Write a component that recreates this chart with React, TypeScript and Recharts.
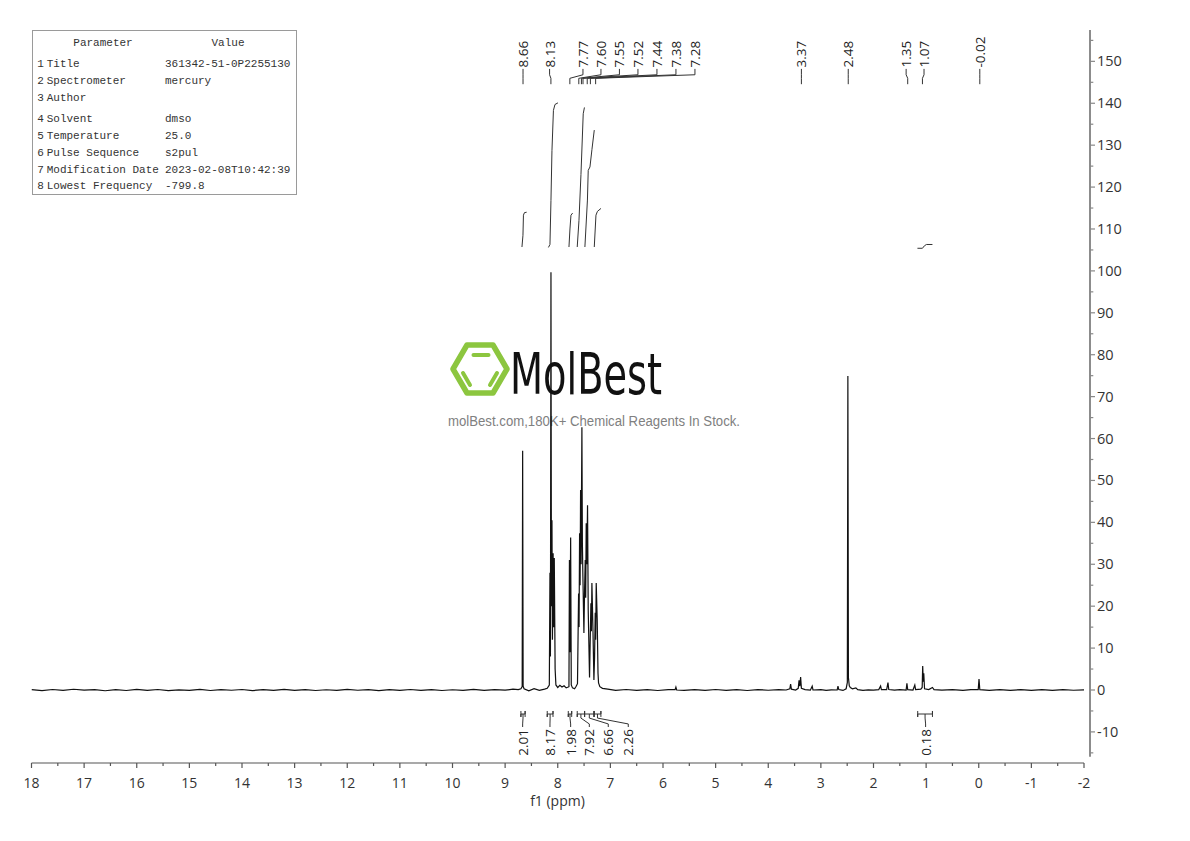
import React from 'react';
import { ComposedChart, Line, XAxis, YAxis, ReferenceLine, ReferenceDot } from 'recharts';

type Pt = [number, number];

// ---------- spectrum (ppm, intensity) ----------
const spectrumDownfield: Pt[] = [
  [18.0, 0.10], [17.8, -0.15], [17.6, 0.12], [17.4, -0.10], [17.2, 0.18], [17.0, -0.05],
  [16.8, 0.10], [16.6, -0.18], [16.4, 0.08], [16.2, -0.12], [16.0, 0.15], [15.8, -0.08],
  [15.6, 0.12], [15.4, -0.15], [15.2, 0.05], [15.0, -0.10], [14.8, 0.14], [14.6, -0.12],
  [14.4, 0.10], [14.2, -0.06], [14.0, 0.12], [13.8, -0.14], [13.6, 0.08], [13.4, -0.10],
  [13.2, 0.16], [13.0, -0.08], [12.8, 0.10], [12.6, -0.12], [12.4, 0.06], [12.2, -0.10],
  [12.0, 0.14], [11.8, -0.06], [11.6, 0.10], [11.4, -0.14], [11.2, 0.08], [11.0, -0.10],
  [10.8, 0.12], [10.6, -0.08], [10.4, 0.10], [10.2, -0.12], [10.0, 0.06], [9.8, -0.10],
  [9.6, 0.15], [9.4, -0.08], [9.2, 0.10], [9.0, -0.05], [8.85, 0.20], [8.75, 0.10],
];

const spectrumAromatic: Pt[] = [
  [8.70, 0.3], [8.676, 0.8], [8.667, 57.1], [8.658, 0.9], [8.64, 0.3], [8.55, -0.2],
  [8.45, 0.3], [8.35, -0.1], [8.25, 0.2], [8.20, 0.4],
  [8.16, 1.2], [8.148, 28.0], [8.139, 8.0], [8.129, 99.7], [8.120, 20.0], [8.110, 40.5],
  [8.101, 12.0], [8.088, 32.6], [8.079, 15.0], [8.066, 31.5], [8.050, 5.0], [8.035, 1.2],
  [8.00, 0.6], [7.96, 1.1], [7.92, 0.7], [7.88, 1.0], [7.84, 0.5], [7.80, 0.7],
  [7.787, 0.8], [7.778, 31.0], [7.768, 9.0], [7.755, 36.4], [7.743, 1.2], [7.72, 0.5],
  [7.68, 0.3], [7.65, 0.9], [7.625, 1.5],
  [7.604, 23.0], [7.595, 15.0], [7.585, 37.4], [7.575, 25.0], [7.566, 47.7], [7.556, 30.0],
  [7.541, 62.7], [7.532, 35.0], [7.522, 27.0], [7.503, 13.6], [7.490, 24.0], [7.478, 31.0],
  [7.469, 22.0], [7.459, 39.8], [7.448, 30.0], [7.434, 44.1], [7.421, 19.0], [7.396, 3.0],
  [7.383, 12.0], [7.370, 20.7], [7.361, 14.0], [7.351, 25.5], [7.332, 15.0], [7.313, 2.4],
  [7.300, 8.0], [7.288, 18.4], [7.279, 12.0], [7.269, 25.5], [7.250, 16.7], [7.235, 4.0],
  [7.225, 1.7], [7.20, 0.8], [7.15, 0.4], [7.05, 0.2],
];

const spectrumUpfield: Pt[] = [
  [6.9, -0.1], [6.7, 0.12], [6.5, -0.08], [6.3, 0.1], [6.1, -0.12], [5.9, 0.08],
  [5.77, 0.1], [5.755, 0.7], [5.74, 0.0], [5.6, -0.1], [5.4, 0.1], [5.2, -0.08],
  [5.0, 0.12], [4.8, -0.1], [4.6, 0.08], [4.4, -0.12], [4.2, 0.1], [4.0, -0.06],
  [3.8, 0.1], [3.66, 0.0], [3.59, 0.3], [3.575, 1.4], [3.56, 0.2], [3.48, 0.0],
  [3.43, 0.4], [3.415, 2.3], [3.40, 0.9], [3.385, 3.1], [3.37, 0.4], [3.30, 0.1],
  [3.20, -0.05], [3.165, 0.9], [3.15, 0.0], [3.0, 0.1], [2.9, -0.1], [2.8, 0.05],
  [2.69, 0.0], [2.675, 0.9], [2.66, 0.1], [2.58, -0.1], [2.52, 0.3], [2.497, 1.8],
  [2.487, 74.9], [2.477, 3.0], [2.46, 1.0], [2.44, 0.6], [2.40, 0.3], [2.335, 0.5],
  [2.30, 0.1], [2.20, -0.1], [2.10, 0.05], [2.00, -0.05], [1.90, 0.1], [1.865, 0.95],
  [1.85, 0.1], [1.75, 0.1], [1.725, 1.75], [1.71, 0.1], [1.60, -0.05], [1.50, 0.1],
  [1.38, 0.0], [1.365, 1.6], [1.35, 0.1], [1.25, 0.0], [1.215, 1.2], [1.20, 0.1],
  [1.10, 0.2], [1.075, 0.6], [1.065, 5.7], [1.055, 2.0], [1.045, 4.0], [1.03, 0.3],
  [0.95, 0.1], [0.88, 0.6], [0.85, 0.1], [0.70, -0.05], [0.50, 0.1], [0.30, -0.1],
  [0.15, 0.08], [0.01, 0.1], [-0.005, 2.6], [-0.02, 0.1], [-0.2, -0.1], [-0.4, 0.1],
  [-0.6, -0.08], [-0.8, 0.1], [-1.0, -0.1], [-1.2, 0.08], [-1.4, -0.1], [-1.6, 0.1],
  [-1.8, -0.06], [-2.0, 0.05],
];

// ---------- integral curves ----------
const integralCurve1: Pt[] = [[8.680, 105.7], [8.661, 108.5], [8.652, 113.3], [8.633, 113.9], [8.591, 114.0]];
const integralCurve2: Pt[] = [[8.177, 105.6], [8.148, 106.3], [8.129, 116.8], [8.110, 128.7], [8.082, 138.3], [8.053, 139.7], [7.996, 140.1]];
const integralCurve3: Pt[] = [[7.787, 105.7], [7.768, 110.0], [7.749, 113.3], [7.717, 113.8]];
const integralCurve4: Pt[] = [[7.630, 105.7], [7.597, 112.0], [7.559, 123.0], [7.516, 137.5], [7.493, 139.0]];
const integralCurve5: Pt[] = [[7.484, 105.7], [7.436, 116.9], [7.421, 124.0], [7.388, 124.8], [7.350, 129.0], [7.306, 133.6]];
const integralCurve6: Pt[] = [[7.306, 105.7], [7.274, 113.3], [7.246, 114.2], [7.179, 114.9]];
const integralCurve7: Pt[] = [[1.165, 105.4], [1.070, 105.4], [1.032, 106.0], [0.994, 106.3], [0.880, 106.3]];

// ---------- peak picking ----------
const peakLabels = ['8.66', '8.13', '7.77', '7.60', '7.55', '7.52', '7.44', '7.38', '7.28', '3.37', '2.48', '1.35', '1.07', '-0.02'];
const peakShifts = [8.66, 8.13, 7.77, 7.60, 7.55, 7.52, 7.44, 7.38, 7.28, 3.37, 2.48, 1.35, 1.07, -0.02];
const peakLabelAnchors = [8.66, 8.155, 7.521, 7.179, 6.828, 6.476, 6.115, 5.754, 5.393, 3.37, 2.48, 1.38, 1.04, -0.02];

// ---------- integrations ----------
const integralValues = ['2.01', '8.17', '1.98', '7.92', '6.66', '2.26', '0.18'];
const integralFrom = [8.70, 8.20, 7.80, 7.63, 7.49, 7.31, 1.16];
const integralTo = [8.62, 8.09, 7.735, 7.49, 7.31, 7.18, 0.88];
const integralLabelAnchors = [8.667, 8.148, 7.755, 7.40, 7.04, 6.66, 1.01];

// ---------- axes ----------
const xTicks = [18, 17.5, 17, 16.5, 16, 15.5, 15, 14.5, 14, 13.5, 13, 12.5, 12, 11.5, 11, 10.5, 10, 9.5, 9, 8.5, 8, 7.5, 7, 6.5, 6, 5.5, 5, 4.5, 4, 3.5, 3, 2.5, 2, 1.5, 1, 0.5, 0, -0.5, -1, -1.5, -2];
const yTicks = [-15, -10, -5, 0, 5, 10, 15, 20, 25, 30, 35, 40, 45, 50, 55, 60, 65, 70, 75, 80, 85, 90, 95, 100, 105, 110, 115, 120, 125, 130, 135, 140, 145, 150, 155];

// ---------- parameter table ----------
const tableParams = ['Title', 'Spectrometer', 'Author', 'Solvent', 'Temperature', 'Pulse Sequence', 'Modification Date', 'Lowest Frequency'];
const tableValues = ['361342-51-0P2255130', 'mercury', '', 'dmso', '25.0', 's2pul', '2023-02-08T10:42:39', '-799.8'];

// ---------- layout ----------
const W = 1182;
const H = 833;
const X_MIN = -2.114;
const X_MAX = 18;
const Y_MIN = -17.42;
const Y_MAX = 157.48;
const FONT = "'Open Sans', 'Noto Sans', sans-serif";

const rows = (pts: Pt[]) => pts.map(([x, y]) => ({ x, y }));
const spectrum = rows([...spectrumDownfield, ...spectrumAromatic, ...spectrumUpfield]);
const integralCurves = [integralCurve1, integralCurve2, integralCurve3, integralCurve4, integralCurve5, integralCurve6, integralCurve7].map(rows);

const XTick = (props: any) => {
  const { x, y, payload } = props;
  const v = payload.value as number;
  const major = Math.abs(v - Math.round(v)) < 1e-6;
  return (
    <g>
      <line x1={x} x2={x} y1={y} y2={y + (major ? 5 : 3)} stroke="#555" strokeWidth={1.2} />
      {major && (
        <text x={x} y={y + 24.5} textAnchor="middle" fontFamily={FONT} fontSize={14} fill="#333">
          {String(v)}
        </text>
      )}
    </g>
  );
};

const YTick = (props: any) => {
  const { x, y, payload } = props;
  const v = payload.value as number;
  const major = v % 10 === 0;
  return (
    <g>
      <line x1={x} x2={x + (major ? 5 : 3.3)} y1={y} y2={y} stroke="#888" strokeWidth={1.2} />
      {major && (
        <text x={x + 7} y={y + 5} textAnchor="start" fontFamily={FONT} fontSize={14.5} fill="#333">
          {String(v)}
        </text>
      )}
    </g>
  );
};

const lineProps = {
  type: 'linear' as const,
  dataKey: 'y',
  dot: false,
  activeDot: false,
  isAnimationActive: false,
  legendType: 'none' as const,
};

export default function App() {
  return (
    <div style={{ position: 'relative', width: W, height: H }}>
      {/* watermark + parameter table (behind the spectrum) */}
      <svg width={W} height={H} style={{ position: 'absolute', left: 0, top: 0 }}>
        <g>
          <polygon
            points="445,361 459,337 485,337 499,361 485,385 459,385"
            fill="none"
            stroke="#8cc63f"
            strokeWidth={5.5}
            strokeLinejoin="round"
          />
          <line x1={465.5} y1={347} x2={480.5} y2={347} stroke="#8cc63f" strokeWidth={4} strokeLinecap="round" />
          <line x1={455} y1={365} x2={462} y2={377} stroke="#8cc63f" strokeWidth={4} strokeLinecap="round" />
          <line x1={489} y1={365} x2={482} y2={377} stroke="#8cc63f" strokeWidth={4} strokeLinecap="round" />
          <text
            x={502}
            y={385.5}
            fontFamily="'DejaVu Sans Condensed', 'Liberation Sans Narrow', 'Roboto', sans-serif"
            fontSize={57}
            fill="#111"
            textLength={152}
            lengthAdjust="spacingAndGlyphs"
          >
            MolBest
          </text>
          <text
            x={440}
            y={417.5}
            fontFamily="'Liberation Sans', Arial, sans-serif"
            fontSize={14}
            fill="#808080"
            textLength={292}
            lengthAdjust="spacingAndGlyphs"
          >
            molBest.com,180K+ Chemical Reagents In Stock.
          </text>
        </g>
        <g fontFamily="'Liberation Mono', 'DejaVu Sans Mono', monospace" fontSize={11} fill="#333">
          <rect x={24.5} y={22.5} width={264} height={164} fill="#fff" stroke="#9a9a9a" strokeWidth={1} />
          <text x={95} y={38} textAnchor="middle">Parameter</text>
          <text x={220} y={38} textAnchor="middle">Value</text>
          {tableParams.map((p, i) => {
            const cy = [54.5, 72, 89, 110, 127, 144, 160.5, 177][i] + 4;
            return (
              <g key={p}>
                <text x={29.3} y={cy}>{String(i + 1)}</text>
                <text x={38.7} y={cy}>{p}</text>
                <text x={157} y={cy}>{tableValues[i]}</text>
              </g>
            );
          })}
        </g>
      </svg>

      <ComposedChart width={W} height={H} margin={{ top: 22, right: 40, bottom: 28, left: 23.5 }}>
        <XAxis
          dataKey="x"
          type="number"
          domain={[X_MIN, X_MAX]}
          reversed
          allowDataOverflow
          ticks={xTicks}
          interval={0}
          axisLine={false}
          tickLine={false}
          tickSize={0}
          tickMargin={0}
          tick={XTick}
          height={50}
          label={(p: any) => {
            const vb = p.viewBox || {};
            return (
              <text x={vb.x + (vb.width - 6.5) / 2} y={vb.y + 43} textAnchor="middle" fontFamily={FONT} fontSize={14} fill="#333">
                f1 (ppm)
              </text>
            );
          }}
        />
        <YAxis
          orientation="right"
          type="number"
          domain={[Y_MIN, Y_MAX]}
          allowDataOverflow
          ticks={yTicks}
          interval={0}
          axisLine={false}
          tickLine={false}
          tickSize={0}
          tickMargin={0}
          tick={YTick}
          width={60}
        />

        {/* axis lines */}
        <ReferenceLine segment={[{ x: 18, y: Y_MIN }, { x: -2, y: Y_MIN }]} stroke="#555" strokeWidth={1.2} ifOverflow="visible" />
        <ReferenceLine segment={[{ x: X_MIN, y: -15.9 }, { x: X_MIN, y: Y_MAX }]} stroke="#8c8c8c" strokeWidth={2} ifOverflow="visible" />

        {/* spectrum */}
        <Line {...lineProps} data={spectrum} stroke="#111" strokeWidth={1.2} />

        {/* integral curves */}
        {integralCurves.map((c, i) => (
          <Line key={'ic' + i} {...lineProps} data={c} stroke="#333" strokeWidth={1} />
        ))}

        {/* peak label connectors */}
        {peakShifts.map((s, i) => (
          <Line
            key={'pc' + i}
            {...lineProps}
            data={[
              { x: s, y: 144.55 },
              { x: s, y: 145.95 },
              { x: peakLabelAnchors[i], y: 146.8 },
              { x: peakLabelAnchors[i], y: 148.2 },
            ]}
            stroke="#333"
            strokeWidth={1}
          />
        ))}
        {peakLabels.map((t, i) => (
          <ReferenceDot
            key={'pl' + i}
            x={peakLabelAnchors[i]}
            y={148.53}
            r={0}
            ifOverflow="visible"
            shape={(p: any) => (
              <text
                x={p.cx}
                y={p.cy}
                transform={`rotate(-90 ${p.cx} ${p.cy})`}
                textAnchor="start"
                dominantBaseline="central"
                fontFamily={FONT}
                fontSize={13.5}
                fill="#222"
              >
                {t}
              </text>
            )}
          />
        ))}

        {/* integration brackets */}
        {integralFrom.map((f, i) => {
          const t = integralTo[i];
          return (
            <Line
              key={'ib' + i}
              {...lineProps}
              data={[
                { x: f, y: -5.01 },
                { x: f, y: -6.44 },
                { x: f, y: -5.73 },
                { x: t, y: -5.73 },
                { x: t, y: -5.01 },
                { x: t, y: -6.44 },
              ]}
              stroke="#333"
              strokeWidth={1}
            />
          );
        })}
        {integralFrom.map((f, i) => {
          const mid = (f + integralTo[i]) / 2;
          return (
            <Line
              key={'is' + i}
              {...lineProps}
              data={[
                { x: mid, y: -5.73 },
                { x: mid, y: -6.7 },
                { x: integralLabelAnchors[i], y: -8.1 },
                { x: integralLabelAnchors[i], y: -8.83 },
              ]}
              stroke="#333"
              strokeWidth={1}
            />
          );
        })}
        {integralValues.map((t, i) => (
          <ReferenceDot
            key={'il' + i}
            x={integralLabelAnchors[i]}
            y={-9.31}
            r={0}
            ifOverflow="visible"
            shape={(p: any) => (
              <text
                x={p.cx}
                y={p.cy}
                transform={`rotate(-90 ${p.cx} ${p.cy})`}
                textAnchor="end"
                dominantBaseline="central"
                fontFamily={FONT}
                fontSize={13.5}
                fill="#222"
              >
                {t}
              </text>
            )}
          />
        ))}
      </ComposedChart>
    </div>
  );
}
